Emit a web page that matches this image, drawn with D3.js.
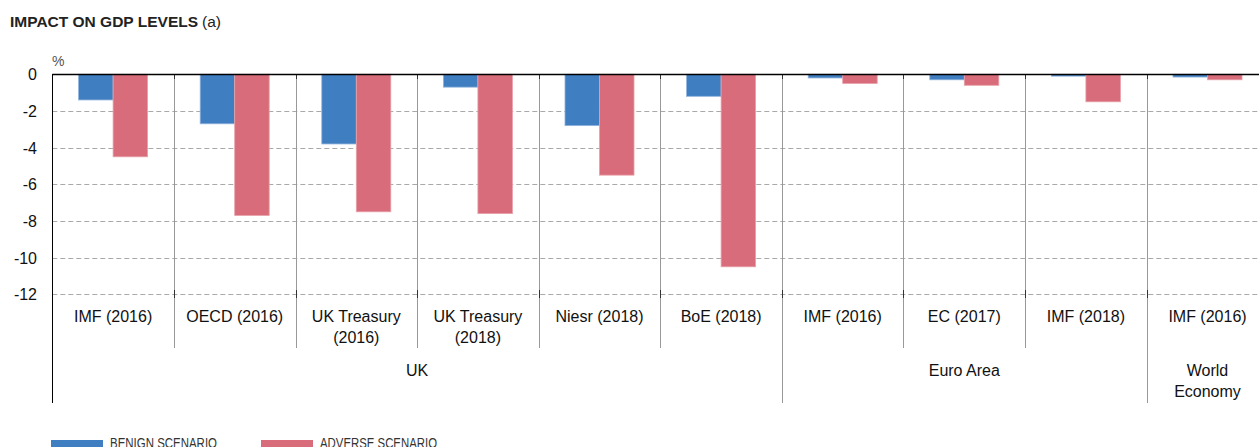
<!DOCTYPE html>
<html><head><meta charset="utf-8">
<script src="https://cdn.jsdelivr.net/npm/d3@7"></script>
<style>
html,body{margin:0;padding:0;background:#fff;overflow:hidden;}
text{font-family:"Liberation Sans",Arial,Helvetica,sans-serif;}
</style></head>
<body><svg id="c" width="1259" height="447"></svg>
<script>
const categories = [["IMF (2016)"],["OECD (2016)"],["UK Treasury","(2016)"],["UK Treasury","(2018)"],["Niesr (2018)"],["BoE (2018)"],["IMF (2016)"],["EC (2017)"],["IMF (2018)"],["IMF (2016)"]];
const groups = [{name:["UK"],from:0,to:5},{name:["Euro Area"],from:6,to:8},{name:["World","Economy"],from:9,to:9}];
const benign  = [-1.4,-2.7,-3.8,-0.7,-2.8,-1.2,-0.2,-0.3,-0.1,-0.15];
const adverse = [-4.5,-7.7,-7.5,-7.6,-5.5,-10.5,-0.5,-0.6,-1.5,-0.3];
const seriesNames = ["BENIGN SCENARIO","ADVERSE SCENARIO"];
const seriesColors = ["#3f7ec1","#d86c7a"];
const yTicks = [0,-2,-4,-6,-8,-10,-12];

const svg = d3.select("#c");
const left = 52.3, step = 121.6;
const x = d3.scaleBand().domain(d3.range(categories.length)).range([left, left+step*categories.length]).paddingInner(0).paddingOuter(0);
const xs = d3.scaleBand().domain([0,1]).range([0, x.bandwidth()]).paddingInner(0).paddingOuter(0.762);
const y = d3.scaleLinear().domain([0,-12]).range([74.3,294.3]);

// title
const t = svg.append("text").attr("x",10).attr("y",26.5).attr("fill","#222").style("font-size","15.5px");
t.append("tspan").attr("font-weight","bold").text("IMPACT ON GDP LEVELS");
t.append("tspan").attr("dx",4).text("(a)");
svg.append("text").attr("x",52).attr("y",66).attr("fill","#555").style("font-size","14px").text("%");

// gridlines
svg.append("g").selectAll("line").data(yTicks.filter(d=>d!==0)).join("line")
  .attr("x1",left).attr("x2",1259).attr("y1",d=>Math.round(y(d))+0.5).attr("y2",d=>Math.round(y(d))+0.5)
  .attr("stroke","#aaa").attr("stroke-dasharray","5,3");

// y tick labels
svg.append("g").selectAll("text").data(yTicks).join("text")
  .attr("x",37).attr("y",d=>y(d)+6).attr("text-anchor","end").attr("fill","#111").style("font-size","16px").text(d=>d);

// separators
const sepIdx = d3.range(1,categories.length);
const groupStarts = groups.map(g=>g.from).filter(i=>i>0);
svg.append("g").selectAll("line").data(sepIdx).join("line")
  .attr("x1",i=>Math.round(x(i))+0.5).attr("x2",i=>Math.round(x(i))+0.5)
  .attr("y1",74).attr("y2",i=>groupStarts.includes(i)?403:348)
  .attr("stroke","#999");
svg.append("g").selectAll("line").data(sepIdx).join("line")
  .attr("x1",i=>Math.round(x(i))+0.5).attr("x2",i=>Math.round(x(i))+0.5)
  .attr("y1",74).attr("y2",79).attr("stroke","#333");
svg.append("g").selectAll("line").data(sepIdx).join("line")
  .attr("x1",i=>Math.round(x(i))+0.5).attr("x2",i=>Math.round(x(i))+0.5)
  .attr("y1",290).attr("y2",298).attr("stroke","#333");

// bars
const data = [];
categories.forEach((c,i)=>{ data.push({i,s:0,v:benign[i]}); data.push({i,s:1,v:adverse[i]}); });
svg.append("g").selectAll("rect").data(data).join("rect")
  .attr("x",d=>x(d.i)+xs(d.s)).attr("width",xs.bandwidth())
  .attr("y",y(0)).attr("height",d=>y(d.v)-y(0))
  .attr("fill",d=>seriesColors[d.s]).attr("stroke",d=>d.s?"#e8a0a9":"#8fb3dc").attr("stroke-width",0.8);

// axes lines
svg.append("line").attr("x1",left).attr("x2",1259).attr("y1",74.5).attr("y2",74.5).attr("stroke","#000").attr("stroke-width",1.3);
svg.append("line").attr("x1",52.5).attr("x2",52.5).attr("y1",74).attr("y2",403).attr("stroke","#000");

// category labels
const cl = svg.append("g").selectAll("text").data(categories).join("text")
  .attr("x",(d,i)=>x(i)+x.bandwidth()/2).attr("y",322).attr("text-anchor","middle").attr("fill","#111").style("font-size","16px");
cl.selectAll("tspan").data(d=>d).join("tspan").attr("x",function(){return this.parentNode.getAttribute("x");})
  .attr("dy",(d,j)=>j?21:0).text(d=>d);

// group labels
const gl = svg.append("g").selectAll("text").data(groups).join("text")
  .attr("x",g=>(x(g.from)+x(g.to)+x.bandwidth())/2).attr("y",376).attr("text-anchor","middle").attr("fill","#111").style("font-size","16px");
gl.selectAll("tspan").data(g=>g.name).join("tspan").attr("x",function(){return this.parentNode.getAttribute("x");})
  .attr("dy",(d,j)=>j?21:0).text(d=>d);

// legend
const lg = svg.append("g").selectAll("g").data(seriesNames).join("g").attr("transform",(d,i)=>`translate(${51+i*210},0)`);
lg.append("rect").attr("x",0).attr("y",440).attr("width",52).attr("height",10).attr("fill",(d,i)=>seriesColors[i]);
lg.append("text").attr("x",59).attr("y",448).attr("fill","#333").style("font-size","14px")
  .attr("textLength",(d,i)=>i?117:107).attr("lengthAdjust","spacingAndGlyphs").text(d=>d);
</script></body></html>
